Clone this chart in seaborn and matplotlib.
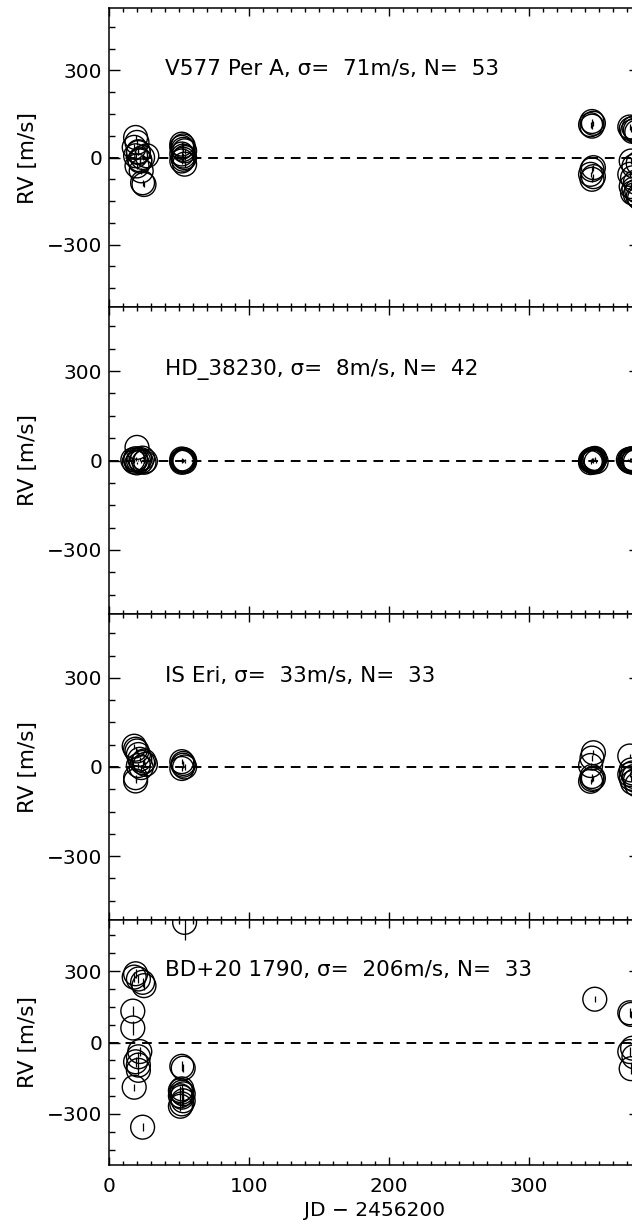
import matplotlib
matplotlib.use("Agg")
import matplotlib.pyplot as plt
from matplotlib.ticker import MultipleLocator
import pandas as pd
import seaborn as sns

# ---- radial-velocity measurements (JD - 2456200, RV in m/s, error in m/s) ----
star_names = ["V577 Per A", "HD_38230", "IS Eri", "BD+20 1790"]
star_sigma = [71, 8, 33, 206]
star_n = [53, 42, 33, 33]

v577_jd = [19, 20, 18, 21, 19, 22, 20, 23, 21, 24, 22, 27, 24, 25,
           52, 53, 52, 53, 54, 52, 53, 54, 53, 52, 54,
           345, 346, 344, 345, 346, 345, 344, 346, 345,
           372, 373, 374, 375, 376, 377, 373, 375, 378, 372, 374, 376, 373, 375,
           377, 374, 376, 378, 379]
v577_rv = [69, 52, 35, 17, 6, -12, -29, -46, 20, 0, -8, 6, -87, -93,
           46, 40, 35, 28, 23, 12, 5, 0, -6, -12, -23,
           124, 118, 113, 108, -35, -42, -58, -66, -75,
           105, 98, 90, 102, 95, 88, -12, -30, -20, -58, -70, -85, -100, -108,
           -115, -122, -127, -135, -140]
v577_err = [10, 9, 11, 10, 12, 9, 10, 11, 10, 9, 12, 10, 11, 10,
            9, 10, 8, 9, 10, 9, 11, 8, 10, 9, 10,
            9, 8, 10, 9, 10, 11, 9, 10, 8,
            10, 9, 11, 10, 9, 10, 12, 10, 9, 11, 10, 9, 12, 10,
            11, 9, 10, 11, 10]

hd_jd = [20, 17, 18, 19, 20, 21, 22, 23, 24, 25, 19, 26,
         52, 53, 53, 54, 52, 53, 54, 52,
         344, 345, 346, 347, 345, 346, 344, 347, 345, 346, 348, 345,
         371, 372, 373, 374, 375, 372, 373, 374, 376, 375]
hd_rv = [44, 2, -5, 6, -8, 0, 4, -3, 8, -6, 1, -2,
         -2, 0, 3, -4, 5, -1, 2, -6,
         0, 4, -5, 7, -3, 2, -7, 5, -1, 3, -4, 1,
         2, -3, 5, -6, 0, 4, -2, 6, -4, 1]
hd_err = [5, 4, 4, 5, 4, 3, 4, 5, 4, 4, 3, 4,
          3, 4, 3, 4, 3, 4, 3, 4,
          4, 3, 4, 5, 3, 4, 4, 3, 4, 5, 4, 3,
          4, 3, 4, 4, 3, 5, 4, 3, 4, 4]

iseri_jd = [18, 20, 21, 22, 24, 26, 23, 25, 19, 21, 19, 19,
            52, 53, 53, 54, 52,
            346, 345, 344, 345, 346, 345, 344,
            372, 373, 374, 372, 375, 373, 376, 374, 377]
iseri_rv = [70, 54, 42, 26, 15, 9, -2, 20, 60, 5, -36, -47,
            18, 12, 6, 0, -5,
            48, 30, 5, -32, -38, -42, -48,
            37, -10, -20, -25, -32, -38, -45, -52, -60]
iseri_err = [9, 8, 10, 8, 9, 8, 10, 9, 8, 9, 10, 8,
             9, 8, 10, 9, 8,
             9, 10, 8, 9, 8, 10, 9,
             8, 9, 10, 8, 9, 10, 8, 9, 10]

bd_jd = [54,
         19, 18, 21, 24, 25, 17, 17, 22, 21, 19, 21, 21, 18, 24,
         52, 53, 52, 51, 52, 53, 51, 52, 53, 52, 51,
         347,
         372, 373, 374, 372, 375, 373]
bd_rv = [505,
         289, 275, 267, 253, 239, 132, 61, -38, -60, -81, -95, -117, -188, -356,
         -100, -108, -195, -202, -209, -216, -224, -230, -245, -258, -268,
         182,
         125, 118, -24, -38, -60, -110]
bd_err = [75,
          18, 20, 17, 19, 18, 21, 28, 20, 19, 22, 20, 18, 14, 17,
          21, 18, 20, 19, 22, 24, 20, 19, 21, 18, 20,
          12,
          18, 16, 20, 19, 21, 22]

series = [(v577_jd, v577_rv, v577_err),
          (hd_jd, hd_rv, hd_err),
          (iseri_jd, iseri_rv, iseri_err),
          (bd_jd, bd_rv, bd_err)]

x_ticks = [0, 100, 200, 300]
y_ticks = [-300, 0, 300]

# ---- styling ----
sns.set_style("ticks")
plt.rcParams["font.family"] = ["DejaVu Sans"]
plt.rcParams["font.size"] = 14
plt.rcParams["axes.linewidth"] = 1.1
for key in ("text.color", "axes.labelcolor", "xtick.color", "ytick.color",
            "axes.edgecolor"):
    plt.rcParams[key] = "black"

W, H = 632, 1224
fig = plt.figure(figsize=(W / 100, H / 100), dpi=100)

# panel extents in pixels: (top, bottom); axes run from x=109 px to x=640 px
panel_px = [(8, 307), (307, 614), (614, 920), (920, 1165)]
left_px, right_px = 109, 640

axes = []
for top, bot in panel_px:
    ax = fig.add_axes([left_px / W, (H - bot) / H,
                       (right_px - left_px) / W, (bot - top) / H])
    axes.append(ax)

for i, (ax, (jd, rv, err)) in enumerate(zip(axes, series)):
    df = pd.DataFrame({"jd": jd, "rv": rv, "err": err})
    ax.axhline(0, color="black", lw=1.4, ls=(0, (5, 3.5)), zorder=1)
    ax.errorbar(df["jd"], df["rv"], yerr=df["err"], fmt="none",
                ecolor="black", elinewidth=0.9, capsize=0, zorder=2)
    sns.scatterplot(data=df, x="jd", y="rv", ax=ax, marker="o", s=295,
                    facecolor="none", edgecolor="black", linewidth=1.0,
                    legend=False, zorder=3)

    ax.set_xlim(0, 379.3)
    ax.set_ylim(-515, 515)
    ax.xaxis.set_major_locator(MultipleLocator(100))
    ax.xaxis.set_minor_locator(MultipleLocator(10))
    ax.set_yticks(y_ticks)
    ax.yaxis.set_minor_locator(MultipleLocator(75))

    ax.tick_params(axis="both", which="both", direction="in",
                   top=True, right=True, color="black", width=1.0)
    ax.tick_params(axis="x", which="major", length=5.5, pad=9)
    ax.tick_params(axis="x", which="minor", length=2.7)
    ax.tick_params(axis="y", which="major", length=8, pad=5)
    ax.tick_params(axis="y", which="minor", length=4.3)
    ax.tick_params(labelsize=14.5, labelcolor="black")

    ax.set_ylabel("RV [m/s]", fontsize=15.5)
    ax.yaxis.set_label_coords(-0.134, 0.5)

    if i < 3:
        ax.set_xticklabels([])
        ax.set_xlabel("")
    else:
        ax.set_xticks(x_ticks)
        ax.set_xlabel("JD \u2212 2456200", fontsize=14.5)
        ax.xaxis.set_label_coords(0.5, -0.145)

    ax.text(40, 305,
            f"{star_names[i]}, \u03c3=  {star_sigma[i]}m/s, N=  {star_n[i]}",
            fontsize=15.5, ha="left", va="center")

    for sp in ax.spines.values():
        sp.set_visible(True)
        sp.set_color("black")

fig.savefig("out.png", dpi=100)
